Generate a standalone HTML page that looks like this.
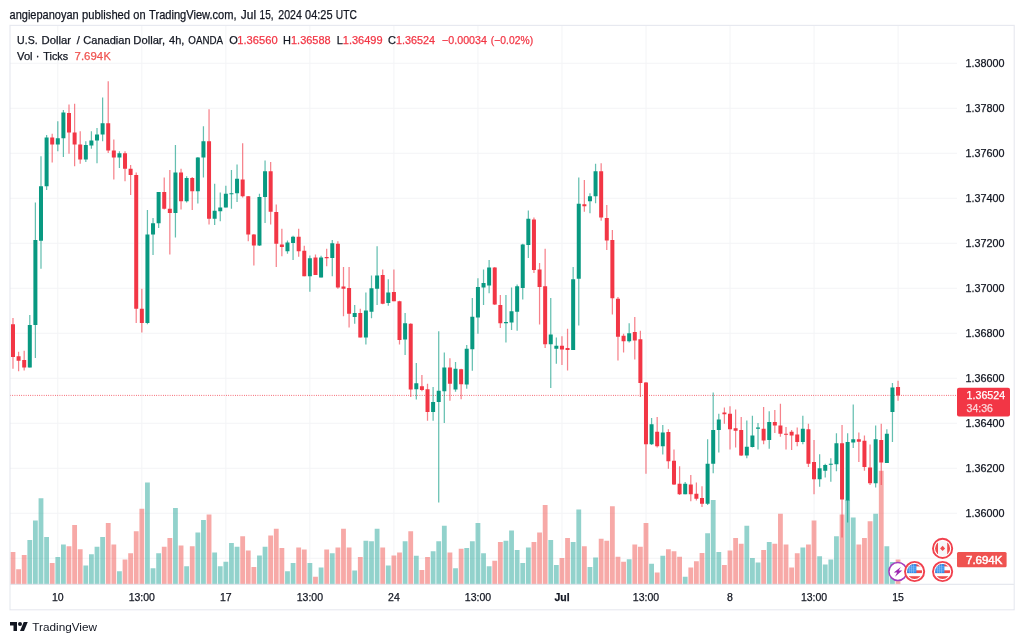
<!DOCTYPE html><html><head><meta charset="utf-8"><title>USDCAD chart</title>
<style>html,body{margin:0;padding:0;background:#fff}body{width:1024px;height:643px;overflow:hidden}svg{display:block}text{font-family:"Liberation Sans", sans-serif}</style></head><body>
<svg width="1024" height="643" viewBox="0 0 1024 643">
<rect width="1024" height="643" fill="#fff"/>
<g stroke="#f3f4f6" stroke-width="1"><line x1="57.8" y1="26" x2="57.8" y2="584" /><line x1="141.82999999999998" y1="26" x2="141.82999999999998" y2="584" /><line x1="225.86" y1="26" x2="225.86" y2="584" /><line x1="309.89" y1="26" x2="309.89" y2="584" /><line x1="393.92" y1="26" x2="393.92" y2="584" /><line x1="477.95" y1="26" x2="477.95" y2="584" /><line x1="561.98" y1="26" x2="561.98" y2="584" /><line x1="646.01" y1="26" x2="646.01" y2="584" /><line x1="730.04" y1="26" x2="730.04" y2="584" /><line x1="814.0699999999999" y1="26" x2="814.0699999999999" y2="584" /><line x1="898.0999999999999" y1="26" x2="898.0999999999999" y2="584" /><line x1="10" y1="63.25" x2="957" y2="63.25" /><line x1="10" y1="108.25" x2="957" y2="108.25" /><line x1="10" y1="153.25" x2="957" y2="153.25" /><line x1="10" y1="198.25" x2="957" y2="198.25" /><line x1="10" y1="243.25" x2="957" y2="243.25" /><line x1="10" y1="288.25" x2="957" y2="288.25" /><line x1="10" y1="333.25" x2="957" y2="333.25" /><line x1="10" y1="378.25" x2="957" y2="378.25" /><line x1="10" y1="423.25" x2="957" y2="423.25" /><line x1="10" y1="468.25" x2="957" y2="468.25" /><line x1="10" y1="513.25" x2="957" y2="513.25" /><line x1="10" y1="558.25" x2="957" y2="558.25" /></g>
<g fill-opacity="0.5"><rect x="10.59" y="552.00" width="4.80" height="32.25" fill="#ef5350"/><rect x="16.19" y="569.25" width="4.80" height="15.00" fill="#ef5350"/><rect x="21.79" y="555.00" width="4.80" height="29.25" fill="#ef5350"/><rect x="27.39" y="540.00" width="4.80" height="44.25" fill="#26a69a"/><rect x="32.99" y="520.50" width="4.80" height="63.75" fill="#26a69a"/><rect x="38.59" y="498.25" width="4.80" height="86.00" fill="#26a69a"/><rect x="44.20" y="537.00" width="4.80" height="47.25" fill="#26a69a"/><rect x="49.80" y="563.00" width="4.80" height="21.25" fill="#ef5350"/><rect x="55.40" y="557.00" width="4.80" height="27.25" fill="#26a69a"/><rect x="61.00" y="544.50" width="4.80" height="39.75" fill="#26a69a"/><rect x="66.60" y="546.25" width="4.80" height="38.00" fill="#ef5350"/><rect x="72.21" y="525.00" width="4.80" height="59.25" fill="#ef5350"/><rect x="77.81" y="549.25" width="4.80" height="35.00" fill="#ef5350"/><rect x="83.41" y="565.50" width="4.80" height="18.75" fill="#26a69a"/><rect x="89.01" y="554.25" width="4.80" height="30.00" fill="#26a69a"/><rect x="94.61" y="546.75" width="4.80" height="37.50" fill="#26a69a"/><rect x="100.21" y="537.00" width="4.80" height="47.25" fill="#26a69a"/><rect x="105.82" y="523.00" width="4.80" height="61.25" fill="#ef5350"/><rect x="111.42" y="544.50" width="4.80" height="39.75" fill="#ef5350"/><rect x="117.02" y="571.25" width="4.80" height="13.00" fill="#26a69a"/><rect x="122.62" y="559.50" width="4.80" height="24.75" fill="#ef5350"/><rect x="128.22" y="553.25" width="4.80" height="31.00" fill="#ef5350"/><rect x="133.82" y="531.25" width="4.80" height="53.00" fill="#ef5350"/><rect x="139.43" y="508.75" width="4.80" height="75.50" fill="#ef5350"/><rect x="145.03" y="482.50" width="4.80" height="101.75" fill="#26a69a"/><rect x="150.63" y="568.25" width="4.80" height="16.00" fill="#26a69a"/><rect x="156.23" y="553.25" width="4.80" height="31.00" fill="#26a69a"/><rect x="161.83" y="546.75" width="4.80" height="37.50" fill="#ef5350"/><rect x="167.43" y="538.00" width="4.80" height="46.25" fill="#ef5350"/><rect x="173.04" y="508.00" width="4.80" height="76.25" fill="#26a69a"/><rect x="178.64" y="545.50" width="4.80" height="38.75" fill="#ef5350"/><rect x="184.24" y="566.25" width="4.80" height="18.00" fill="#26a69a"/><rect x="189.84" y="546.25" width="4.80" height="38.00" fill="#ef5350"/><rect x="195.44" y="532.50" width="4.80" height="51.75" fill="#26a69a"/><rect x="201.04" y="520.00" width="4.80" height="64.25" fill="#26a69a"/><rect x="206.65" y="514.50" width="4.80" height="69.75" fill="#ef5350"/><rect x="212.25" y="552.50" width="4.80" height="31.75" fill="#26a69a"/><rect x="217.85" y="566.25" width="4.80" height="18.00" fill="#26a69a"/><rect x="223.45" y="561.75" width="4.80" height="22.50" fill="#26a69a"/><rect x="229.05" y="543.00" width="4.80" height="41.25" fill="#26a69a"/><rect x="234.65" y="546.75" width="4.80" height="37.50" fill="#26a69a"/><rect x="240.26" y="536.25" width="4.80" height="48.00" fill="#ef5350"/><rect x="245.86" y="550.50" width="4.80" height="33.75" fill="#ef5350"/><rect x="251.46" y="567.00" width="4.80" height="17.25" fill="#ef5350"/><rect x="257.06" y="555.50" width="4.80" height="28.75" fill="#26a69a"/><rect x="262.66" y="546.75" width="4.80" height="37.50" fill="#26a69a"/><rect x="268.26" y="535.50" width="4.80" height="48.75" fill="#ef5350"/><rect x="273.87" y="528.75" width="4.80" height="55.50" fill="#ef5350"/><rect x="279.47" y="548.00" width="4.80" height="36.25" fill="#ef5350"/><rect x="285.07" y="571.25" width="4.80" height="13.00" fill="#26a69a"/><rect x="290.67" y="563.00" width="4.80" height="21.25" fill="#26a69a"/><rect x="296.27" y="547.50" width="4.80" height="36.75" fill="#ef5350"/><rect x="301.87" y="549.50" width="4.80" height="34.75" fill="#ef5350"/><rect x="307.48" y="563.00" width="4.80" height="21.25" fill="#26a69a"/><rect x="313.08" y="576.75" width="4.80" height="7.50" fill="#ef5350"/><rect x="318.68" y="567.50" width="4.80" height="16.75" fill="#26a69a"/><rect x="324.28" y="549.50" width="4.80" height="34.75" fill="#ef5350"/><rect x="329.88" y="553.25" width="4.80" height="31.00" fill="#26a69a"/><rect x="335.49" y="547.50" width="4.80" height="36.75" fill="#ef5350"/><rect x="341.09" y="528.75" width="4.80" height="55.50" fill="#ef5350"/><rect x="346.69" y="547.50" width="4.80" height="36.75" fill="#ef5350"/><rect x="352.29" y="570.50" width="4.80" height="13.75" fill="#26a69a"/><rect x="357.89" y="557.00" width="4.80" height="27.25" fill="#ef5350"/><rect x="363.49" y="540.75" width="4.80" height="43.50" fill="#26a69a"/><rect x="369.10" y="541.25" width="4.80" height="43.00" fill="#26a69a"/><rect x="374.70" y="528.75" width="4.80" height="55.50" fill="#26a69a"/><rect x="380.30" y="547.50" width="4.80" height="36.75" fill="#ef5350"/><rect x="385.90" y="565.50" width="4.80" height="18.75" fill="#26a69a"/><rect x="391.50" y="555.50" width="4.80" height="28.75" fill="#ef5350"/><rect x="397.10" y="552.50" width="4.80" height="31.75" fill="#ef5350"/><rect x="402.71" y="541.25" width="4.80" height="43.00" fill="#26a69a"/><rect x="408.31" y="531.25" width="4.80" height="53.00" fill="#ef5350"/><rect x="413.91" y="555.75" width="4.80" height="28.50" fill="#26a69a"/><rect x="419.51" y="570.00" width="4.80" height="14.25" fill="#ef5350"/><rect x="425.11" y="557.00" width="4.80" height="27.25" fill="#ef5350"/><rect x="430.71" y="551.25" width="4.80" height="33.00" fill="#26a69a"/><rect x="436.32" y="541.25" width="4.80" height="43.00" fill="#26a69a"/><rect x="441.92" y="525.75" width="4.80" height="58.50" fill="#26a69a"/><rect x="447.52" y="552.50" width="4.80" height="31.75" fill="#ef5350"/><rect x="453.12" y="568.25" width="4.80" height="16.00" fill="#26a69a"/><rect x="458.72" y="548.75" width="4.80" height="35.50" fill="#ef5350"/><rect x="464.32" y="548.00" width="4.80" height="36.25" fill="#26a69a"/><rect x="469.93" y="541.25" width="4.80" height="43.00" fill="#26a69a"/><rect x="475.53" y="523.00" width="4.80" height="61.25" fill="#26a69a"/><rect x="481.13" y="553.25" width="4.80" height="31.00" fill="#26a69a"/><rect x="486.73" y="566.25" width="4.80" height="18.00" fill="#26a69a"/><rect x="492.33" y="560.75" width="4.80" height="23.50" fill="#ef5350"/><rect x="497.93" y="542.00" width="4.80" height="42.25" fill="#ef5350"/><rect x="503.54" y="540.75" width="4.80" height="43.50" fill="#26a69a"/><rect x="509.14" y="530.50" width="4.80" height="53.75" fill="#26a69a"/><rect x="514.74" y="550.00" width="4.80" height="34.25" fill="#26a69a"/><rect x="520.34" y="563.00" width="4.80" height="21.25" fill="#26a69a"/><rect x="525.94" y="547.50" width="4.80" height="36.75" fill="#26a69a"/><rect x="531.54" y="542.00" width="4.80" height="42.25" fill="#ef5350"/><rect x="537.15" y="532.50" width="4.80" height="51.75" fill="#ef5350"/><rect x="542.75" y="505.00" width="4.80" height="79.25" fill="#ef5350"/><rect x="548.35" y="540.00" width="4.80" height="44.25" fill="#26a69a"/><rect x="553.95" y="565.00" width="4.80" height="19.25" fill="#26a69a"/><rect x="559.55" y="558.00" width="4.80" height="26.25" fill="#ef5350"/><rect x="565.15" y="538.00" width="4.80" height="46.25" fill="#ef5350"/><rect x="570.76" y="542.00" width="4.80" height="42.25" fill="#26a69a"/><rect x="576.36" y="509.50" width="4.80" height="74.75" fill="#26a69a"/><rect x="581.96" y="546.25" width="4.80" height="38.00" fill="#ef5350"/><rect x="587.56" y="567.00" width="4.80" height="17.25" fill="#26a69a"/><rect x="593.16" y="557.50" width="4.80" height="26.75" fill="#26a69a"/><rect x="598.76" y="538.75" width="4.80" height="45.50" fill="#ef5350"/><rect x="604.37" y="540.75" width="4.80" height="43.50" fill="#ef5350"/><rect x="609.97" y="506.25" width="4.80" height="78.00" fill="#ef5350"/><rect x="615.57" y="556.75" width="4.80" height="27.50" fill="#ef5350"/><rect x="621.17" y="561.75" width="4.80" height="22.50" fill="#ef5350"/><rect x="626.77" y="559.25" width="4.80" height="25.00" fill="#26a69a"/><rect x="632.38" y="544.50" width="4.80" height="39.75" fill="#ef5350"/><rect x="637.98" y="546.75" width="4.80" height="37.50" fill="#ef5350"/><rect x="643.58" y="523.00" width="4.80" height="61.25" fill="#ef5350"/><rect x="649.18" y="563.75" width="4.80" height="20.50" fill="#26a69a"/><rect x="654.78" y="572.50" width="4.80" height="11.75" fill="#ef5350"/><rect x="660.38" y="555.75" width="4.80" height="28.50" fill="#26a69a"/><rect x="665.99" y="549.25" width="4.80" height="35.00" fill="#ef5350"/><rect x="671.59" y="551.25" width="4.80" height="33.00" fill="#ef5350"/><rect x="677.19" y="556.75" width="4.80" height="27.50" fill="#ef5350"/><rect x="682.79" y="576.75" width="4.80" height="7.50" fill="#26a69a"/><rect x="688.39" y="567.50" width="4.80" height="16.75" fill="#ef5350"/><rect x="693.99" y="561.25" width="4.80" height="23.00" fill="#ef5350"/><rect x="699.60" y="553.00" width="4.80" height="31.25" fill="#ef5350"/><rect x="705.20" y="533.25" width="4.80" height="51.00" fill="#26a69a"/><rect x="710.80" y="500.00" width="4.80" height="84.25" fill="#26a69a"/><rect x="716.40" y="552.00" width="4.80" height="32.25" fill="#26a69a"/><rect x="722.00" y="565.00" width="4.80" height="19.25" fill="#ef5350"/><rect x="727.60" y="550.50" width="4.80" height="33.75" fill="#ef5350"/><rect x="733.21" y="538.00" width="4.80" height="46.25" fill="#ef5350"/><rect x="738.81" y="543.75" width="4.80" height="40.50" fill="#ef5350"/><rect x="744.41" y="525.75" width="4.80" height="58.50" fill="#26a69a"/><rect x="750.01" y="558.00" width="4.80" height="26.25" fill="#26a69a"/><rect x="755.61" y="562.50" width="4.80" height="21.75" fill="#26a69a"/><rect x="761.21" y="550.00" width="4.80" height="34.25" fill="#ef5350"/><rect x="766.82" y="542.00" width="4.80" height="42.25" fill="#26a69a"/><rect x="772.42" y="543.75" width="4.80" height="40.50" fill="#ef5350"/><rect x="778.02" y="513.75" width="4.80" height="70.50" fill="#ef5350"/><rect x="783.62" y="544.50" width="4.80" height="39.75" fill="#ef5350"/><rect x="789.22" y="567.50" width="4.80" height="16.75" fill="#ef5350"/><rect x="794.82" y="553.25" width="4.80" height="31.00" fill="#ef5350"/><rect x="800.43" y="547.50" width="4.80" height="36.75" fill="#26a69a"/><rect x="806.03" y="544.50" width="4.80" height="39.75" fill="#ef5350"/><rect x="811.63" y="520.50" width="4.80" height="63.75" fill="#ef5350"/><rect x="817.23" y="556.25" width="4.80" height="28.00" fill="#26a69a"/><rect x="822.83" y="564.50" width="4.80" height="19.75" fill="#26a69a"/><rect x="828.43" y="559.50" width="4.80" height="24.75" fill="#26a69a"/><rect x="834.04" y="536.25" width="4.80" height="48.00" fill="#26a69a"/><rect x="839.64" y="514.50" width="4.80" height="69.75" fill="#ef5350"/><rect x="845.24" y="500.00" width="4.80" height="84.25" fill="#26a69a"/><rect x="850.84" y="517.50" width="4.80" height="66.75" fill="#26a69a"/><rect x="856.44" y="544.50" width="4.80" height="39.75" fill="#ef5350"/><rect x="862.04" y="538.00" width="4.80" height="46.25" fill="#ef5350"/><rect x="867.65" y="521.25" width="4.80" height="63.00" fill="#ef5350"/><rect x="873.25" y="513.75" width="4.80" height="70.50" fill="#26a69a"/><rect x="878.85" y="470.75" width="4.80" height="113.50" fill="#ef5350"/><rect x="884.45" y="546.25" width="4.80" height="38.00" fill="#26a69a"/><rect x="890.05" y="562.00" width="4.80" height="22.25" fill="#26a69a"/><rect x="895.65" y="559.50" width="4.80" height="24.75" fill="#ef5350"/></g>
<line x1="10" y1="395.4" x2="957" y2="395.4" stroke="#f23645" stroke-width="1" stroke-dasharray="0.8 1.45" opacity="0.9"/>
<g stroke-width="1.25" opacity="0.62"><line x1="12.99" y1="318.00" x2="12.99" y2="368.75" stroke="#f23645"/><line x1="18.59" y1="351.75" x2="18.59" y2="371.25" stroke="#f23645"/><line x1="24.19" y1="350.75" x2="24.19" y2="370.50" stroke="#f23645"/><line x1="29.79" y1="315.00" x2="29.79" y2="367.50" stroke="#089981"/><line x1="35.39" y1="202.50" x2="35.39" y2="358.00" stroke="#089981"/><line x1="40.99" y1="156.25" x2="40.99" y2="268.75" stroke="#089981"/><line x1="46.60" y1="135.00" x2="46.60" y2="190.00" stroke="#089981"/><line x1="52.20" y1="133.75" x2="52.20" y2="162.50" stroke="#f23645"/><line x1="57.80" y1="121.25" x2="57.80" y2="151.25" stroke="#089981"/><line x1="63.40" y1="110.00" x2="63.40" y2="157.00" stroke="#089981"/><line x1="69.00" y1="104.50" x2="69.00" y2="153.75" stroke="#f23645"/><line x1="74.61" y1="103.75" x2="74.61" y2="166.25" stroke="#f23645"/><line x1="80.21" y1="131.25" x2="80.21" y2="163.75" stroke="#f23645"/><line x1="85.81" y1="141.25" x2="85.81" y2="162.00" stroke="#089981"/><line x1="91.41" y1="131.25" x2="91.41" y2="148.75" stroke="#089981"/><line x1="97.01" y1="128.00" x2="97.01" y2="163.25" stroke="#089981"/><line x1="102.61" y1="97.50" x2="102.61" y2="141.25" stroke="#089981"/><line x1="108.22" y1="81.25" x2="108.22" y2="153.00" stroke="#f23645"/><line x1="113.82" y1="139.50" x2="113.82" y2="179.50" stroke="#f23645"/><line x1="119.42" y1="151.25" x2="119.42" y2="168.00" stroke="#089981"/><line x1="125.02" y1="151.25" x2="125.02" y2="181.25" stroke="#f23645"/><line x1="130.62" y1="165.00" x2="130.62" y2="195.00" stroke="#f23645"/><line x1="136.22" y1="172.50" x2="136.22" y2="323.00" stroke="#f23645"/><line x1="141.83" y1="288.75" x2="141.83" y2="332.50" stroke="#f23645"/><line x1="147.43" y1="210.00" x2="147.43" y2="324.25" stroke="#089981"/><line x1="153.03" y1="218.00" x2="153.03" y2="255.00" stroke="#089981"/><line x1="158.63" y1="192.00" x2="158.63" y2="228.00" stroke="#089981"/><line x1="164.23" y1="177.50" x2="164.23" y2="209.50" stroke="#f23645"/><line x1="169.83" y1="170.00" x2="169.83" y2="254.50" stroke="#f23645"/><line x1="175.44" y1="145.00" x2="175.44" y2="237.50" stroke="#089981"/><line x1="181.04" y1="168.75" x2="181.04" y2="209.50" stroke="#f23645"/><line x1="186.64" y1="176.25" x2="186.64" y2="202.50" stroke="#089981"/><line x1="192.24" y1="177.00" x2="192.24" y2="210.00" stroke="#f23645"/><line x1="197.84" y1="157.00" x2="197.84" y2="203.50" stroke="#089981"/><line x1="203.44" y1="126.25" x2="203.44" y2="177.50" stroke="#089981"/><line x1="209.05" y1="109.25" x2="209.05" y2="224.50" stroke="#f23645"/><line x1="214.65" y1="183.75" x2="214.65" y2="225.00" stroke="#089981"/><line x1="220.25" y1="192.50" x2="220.25" y2="221.25" stroke="#089981"/><line x1="225.85" y1="185.75" x2="225.85" y2="207.50" stroke="#089981"/><line x1="231.45" y1="170.00" x2="231.45" y2="208.75" stroke="#089981"/><line x1="237.05" y1="164.50" x2="237.05" y2="202.00" stroke="#089981"/><line x1="242.66" y1="143.25" x2="242.66" y2="197.50" stroke="#f23645"/><line x1="248.26" y1="196.00" x2="248.26" y2="241.25" stroke="#f23645"/><line x1="253.86" y1="234.00" x2="253.86" y2="265.50" stroke="#f23645"/><line x1="259.46" y1="193.75" x2="259.46" y2="246.00" stroke="#089981"/><line x1="265.06" y1="160.50" x2="265.06" y2="223.00" stroke="#089981"/><line x1="270.66" y1="162.00" x2="270.66" y2="224.50" stroke="#f23645"/><line x1="276.27" y1="204.50" x2="276.27" y2="267.00" stroke="#f23645"/><line x1="281.87" y1="228.75" x2="281.87" y2="256.25" stroke="#f23645"/><line x1="287.47" y1="240.50" x2="287.47" y2="253.75" stroke="#089981"/><line x1="293.07" y1="235.75" x2="293.07" y2="260.00" stroke="#089981"/><line x1="298.67" y1="228.75" x2="298.67" y2="256.75" stroke="#f23645"/><line x1="304.27" y1="245.75" x2="304.27" y2="276.25" stroke="#f23645"/><line x1="309.88" y1="255.50" x2="309.88" y2="291.75" stroke="#089981"/><line x1="315.48" y1="254.50" x2="315.48" y2="275.00" stroke="#f23645"/><line x1="321.08" y1="255.75" x2="321.08" y2="277.50" stroke="#089981"/><line x1="326.68" y1="248.75" x2="326.68" y2="266.25" stroke="#f23645"/><line x1="332.28" y1="240.00" x2="332.28" y2="276.25" stroke="#089981"/><line x1="337.88" y1="241.25" x2="337.88" y2="288.75" stroke="#f23645"/><line x1="343.49" y1="267.00" x2="343.49" y2="316.25" stroke="#f23645"/><line x1="349.09" y1="267.00" x2="349.09" y2="327.50" stroke="#f23645"/><line x1="354.69" y1="305.00" x2="354.69" y2="323.75" stroke="#089981"/><line x1="360.29" y1="308.75" x2="360.29" y2="337.50" stroke="#f23645"/><line x1="365.89" y1="292.50" x2="365.89" y2="344.50" stroke="#089981"/><line x1="371.50" y1="275.50" x2="371.50" y2="318.25" stroke="#089981"/><line x1="377.10" y1="246.25" x2="377.10" y2="305.00" stroke="#089981"/><line x1="382.70" y1="269.50" x2="382.70" y2="304.25" stroke="#f23645"/><line x1="388.30" y1="279.25" x2="388.30" y2="305.75" stroke="#089981"/><line x1="393.90" y1="269.50" x2="393.90" y2="301.25" stroke="#f23645"/><line x1="399.50" y1="300.75" x2="399.50" y2="344.50" stroke="#f23645"/><line x1="405.11" y1="313.00" x2="405.11" y2="355.00" stroke="#089981"/><line x1="410.71" y1="323.25" x2="410.71" y2="397.00" stroke="#f23645"/><line x1="416.31" y1="363.00" x2="416.31" y2="399.50" stroke="#089981"/><line x1="421.91" y1="375.00" x2="421.91" y2="391.25" stroke="#f23645"/><line x1="427.51" y1="383.75" x2="427.51" y2="420.75" stroke="#f23645"/><line x1="433.11" y1="387.00" x2="433.11" y2="420.75" stroke="#089981"/><line x1="438.72" y1="331.25" x2="438.72" y2="502.50" stroke="#089981"/><line x1="444.32" y1="352.50" x2="444.32" y2="423.00" stroke="#089981"/><line x1="449.92" y1="358.25" x2="449.92" y2="400.75" stroke="#f23645"/><line x1="455.52" y1="362.00" x2="455.52" y2="391.75" stroke="#089981"/><line x1="461.12" y1="368.75" x2="461.12" y2="399.25" stroke="#f23645"/><line x1="466.72" y1="345.00" x2="466.72" y2="388.75" stroke="#089981"/><line x1="472.33" y1="298.00" x2="472.33" y2="370.75" stroke="#089981"/><line x1="477.93" y1="278.25" x2="477.93" y2="333.75" stroke="#089981"/><line x1="483.53" y1="269.50" x2="483.53" y2="305.00" stroke="#089981"/><line x1="489.13" y1="260.00" x2="489.13" y2="293.25" stroke="#089981"/><line x1="494.73" y1="267.00" x2="494.73" y2="305.00" stroke="#f23645"/><line x1="500.33" y1="295.00" x2="500.33" y2="328.00" stroke="#f23645"/><line x1="505.94" y1="295.00" x2="505.94" y2="342.50" stroke="#089981"/><line x1="511.54" y1="287.50" x2="511.54" y2="330.00" stroke="#089981"/><line x1="517.14" y1="284.50" x2="517.14" y2="330.75" stroke="#089981"/><line x1="522.74" y1="243.75" x2="522.74" y2="299.50" stroke="#089981"/><line x1="528.34" y1="210.50" x2="528.34" y2="258.00" stroke="#089981"/><line x1="533.94" y1="217.50" x2="533.94" y2="273.00" stroke="#f23645"/><line x1="539.55" y1="263.00" x2="539.55" y2="324.50" stroke="#f23645"/><line x1="545.15" y1="248.75" x2="545.15" y2="348.00" stroke="#f23645"/><line x1="550.75" y1="298.00" x2="550.75" y2="388.00" stroke="#089981"/><line x1="556.35" y1="337.50" x2="556.35" y2="363.75" stroke="#089981"/><line x1="561.95" y1="336.25" x2="561.95" y2="365.00" stroke="#f23645"/><line x1="567.55" y1="328.75" x2="567.55" y2="370.50" stroke="#f23645"/><line x1="573.16" y1="267.00" x2="573.16" y2="350.00" stroke="#089981"/><line x1="578.76" y1="177.50" x2="578.76" y2="325.50" stroke="#089981"/><line x1="584.36" y1="180.00" x2="584.36" y2="211.75" stroke="#f23645"/><line x1="589.96" y1="193.25" x2="589.96" y2="213.25" stroke="#089981"/><line x1="595.56" y1="163.75" x2="595.56" y2="203.25" stroke="#089981"/><line x1="601.16" y1="163.25" x2="601.16" y2="220.75" stroke="#f23645"/><line x1="606.77" y1="205.00" x2="606.77" y2="250.00" stroke="#f23645"/><line x1="612.37" y1="230.00" x2="612.37" y2="314.50" stroke="#f23645"/><line x1="617.97" y1="297.00" x2="617.97" y2="360.50" stroke="#f23645"/><line x1="623.57" y1="333.75" x2="623.57" y2="352.50" stroke="#f23645"/><line x1="629.17" y1="323.25" x2="629.17" y2="342.50" stroke="#089981"/><line x1="634.78" y1="317.00" x2="634.78" y2="359.50" stroke="#f23645"/><line x1="640.38" y1="330.75" x2="640.38" y2="397.00" stroke="#f23645"/><line x1="645.98" y1="382.00" x2="645.98" y2="473.75" stroke="#f23645"/><line x1="651.58" y1="418.00" x2="651.58" y2="445.00" stroke="#089981"/><line x1="657.18" y1="417.00" x2="657.18" y2="447.50" stroke="#f23645"/><line x1="662.78" y1="425.00" x2="662.78" y2="454.50" stroke="#089981"/><line x1="668.39" y1="429.25" x2="668.39" y2="468.75" stroke="#f23645"/><line x1="673.99" y1="449.50" x2="673.99" y2="485.00" stroke="#f23645"/><line x1="679.59" y1="466.25" x2="679.59" y2="495.00" stroke="#f23645"/><line x1="685.19" y1="482.00" x2="685.19" y2="494.25" stroke="#089981"/><line x1="690.79" y1="475.00" x2="690.79" y2="501.25" stroke="#f23645"/><line x1="696.39" y1="482.50" x2="696.39" y2="500.50" stroke="#f23645"/><line x1="702.00" y1="486.25" x2="702.00" y2="507.00" stroke="#f23645"/><line x1="707.60" y1="439.25" x2="707.60" y2="505.00" stroke="#089981"/><line x1="713.20" y1="392.50" x2="713.20" y2="473.25" stroke="#089981"/><line x1="718.80" y1="413.75" x2="718.80" y2="452.50" stroke="#089981"/><line x1="724.40" y1="407.50" x2="724.40" y2="423.75" stroke="#f23645"/><line x1="730.00" y1="406.25" x2="730.00" y2="449.50" stroke="#f23645"/><line x1="735.61" y1="409.50" x2="735.61" y2="447.50" stroke="#f23645"/><line x1="741.21" y1="417.00" x2="741.21" y2="456.00" stroke="#f23645"/><line x1="746.81" y1="420.50" x2="746.81" y2="458.25" stroke="#089981"/><line x1="752.41" y1="415.75" x2="752.41" y2="447.50" stroke="#089981"/><line x1="758.01" y1="423.00" x2="758.01" y2="449.50" stroke="#089981"/><line x1="763.61" y1="407.00" x2="763.61" y2="444.25" stroke="#f23645"/><line x1="769.22" y1="411.25" x2="769.22" y2="448.75" stroke="#089981"/><line x1="774.82" y1="410.00" x2="774.82" y2="433.00" stroke="#f23645"/><line x1="780.42" y1="403.75" x2="780.42" y2="436.75" stroke="#f23645"/><line x1="786.02" y1="427.00" x2="786.02" y2="449.50" stroke="#f23645"/><line x1="791.62" y1="430.00" x2="791.62" y2="450.00" stroke="#f23645"/><line x1="797.22" y1="427.50" x2="797.22" y2="446.25" stroke="#f23645"/><line x1="802.83" y1="415.75" x2="802.83" y2="444.25" stroke="#089981"/><line x1="808.43" y1="423.75" x2="808.43" y2="467.00" stroke="#f23645"/><line x1="814.03" y1="440.00" x2="814.03" y2="494.25" stroke="#f23645"/><line x1="819.63" y1="454.25" x2="819.63" y2="486.75" stroke="#089981"/><line x1="825.23" y1="463.75" x2="825.23" y2="477.50" stroke="#089981"/><line x1="830.83" y1="458.25" x2="830.83" y2="481.75" stroke="#089981"/><line x1="836.44" y1="433.25" x2="836.44" y2="471.25" stroke="#089981"/><line x1="842.04" y1="425.00" x2="842.04" y2="537.50" stroke="#f23645"/><line x1="847.64" y1="433.25" x2="847.64" y2="522.50" stroke="#089981"/><line x1="853.24" y1="404.50" x2="853.24" y2="448.00" stroke="#089981"/><line x1="858.84" y1="432.50" x2="858.84" y2="462.00" stroke="#f23645"/><line x1="864.44" y1="435.50" x2="864.44" y2="470.75" stroke="#f23645"/><line x1="870.05" y1="444.50" x2="870.05" y2="485.00" stroke="#f23645"/><line x1="875.65" y1="425.50" x2="875.65" y2="487.50" stroke="#089981"/><line x1="881.25" y1="423.75" x2="881.25" y2="485.00" stroke="#f23645"/><line x1="886.85" y1="429.25" x2="886.85" y2="463.00" stroke="#089981"/><line x1="892.45" y1="383.00" x2="892.45" y2="442.00" stroke="#089981"/><line x1="898.05" y1="380.75" x2="898.05" y2="400.75" stroke="#f23645"/></g>
<g><rect x="10.99" y="324.25" width="4.0" height="32.75" fill="#f23645"/><rect x="16.59" y="356.25" width="4.0" height="4.50" fill="#f23645"/><rect x="22.19" y="360.00" width="4.0" height="7.50" fill="#f23645"/><rect x="27.79" y="325.00" width="4.0" height="42.50" fill="#089981"/><rect x="33.39" y="240.00" width="4.0" height="85.00" fill="#089981"/><rect x="38.99" y="186.25" width="4.0" height="54.50" fill="#089981"/><rect x="44.60" y="137.50" width="4.0" height="48.75" fill="#089981"/><rect x="50.20" y="137.50" width="4.0" height="7.00" fill="#f23645"/><rect x="55.80" y="138.25" width="4.0" height="6.25" fill="#089981"/><rect x="61.40" y="112.50" width="4.0" height="25.75" fill="#089981"/><rect x="67.00" y="113.00" width="4.0" height="19.50" fill="#f23645"/><rect x="72.61" y="132.50" width="4.0" height="12.00" fill="#f23645"/><rect x="78.21" y="144.50" width="4.0" height="15.00" fill="#f23645"/><rect x="83.81" y="145.00" width="4.0" height="14.50" fill="#089981"/><rect x="89.41" y="140.50" width="4.0" height="5.00" fill="#089981"/><rect x="95.01" y="134.50" width="4.0" height="6.00" fill="#089981"/><rect x="100.61" y="123.25" width="4.0" height="11.25" fill="#089981"/><rect x="106.22" y="123.25" width="4.0" height="27.25" fill="#f23645"/><rect x="111.82" y="150.50" width="4.0" height="7.00" fill="#f23645"/><rect x="117.42" y="153.25" width="4.0" height="4.25" fill="#089981"/><rect x="123.02" y="153.25" width="4.0" height="15.50" fill="#f23645"/><rect x="128.62" y="168.75" width="4.0" height="6.25" fill="#f23645"/><rect x="134.22" y="175.00" width="4.0" height="133.75" fill="#f23645"/><rect x="139.83" y="308.75" width="4.0" height="14.25" fill="#f23645"/><rect x="145.43" y="234.50" width="4.0" height="88.50" fill="#089981"/><rect x="151.03" y="223.25" width="4.0" height="11.25" fill="#089981"/><rect x="156.63" y="192.00" width="4.0" height="31.25" fill="#089981"/><rect x="162.23" y="192.00" width="4.0" height="16.75" fill="#f23645"/><rect x="167.83" y="208.75" width="4.0" height="4.25" fill="#f23645"/><rect x="173.44" y="172.50" width="4.0" height="40.50" fill="#089981"/><rect x="179.04" y="172.50" width="4.0" height="28.75" fill="#f23645"/><rect x="184.64" y="178.00" width="4.0" height="23.25" fill="#089981"/><rect x="190.24" y="178.00" width="4.0" height="13.25" fill="#f23645"/><rect x="195.84" y="157.50" width="4.0" height="33.75" fill="#089981"/><rect x="201.44" y="141.25" width="4.0" height="16.25" fill="#089981"/><rect x="207.05" y="141.25" width="4.0" height="77.50" fill="#f23645"/><rect x="212.65" y="210.75" width="4.0" height="8.00" fill="#089981"/><rect x="218.25" y="207.50" width="4.0" height="3.75" fill="#089981"/><rect x="223.85" y="193.75" width="4.0" height="13.75" fill="#089981"/><rect x="229.45" y="193.25" width="4.0" height="1.00" fill="#089981"/><rect x="235.05" y="178.75" width="4.0" height="14.50" fill="#089981"/><rect x="240.66" y="179.50" width="4.0" height="16.75" fill="#f23645"/><rect x="246.26" y="196.25" width="4.0" height="38.25" fill="#f23645"/><rect x="251.86" y="234.50" width="4.0" height="11.00" fill="#f23645"/><rect x="257.46" y="197.00" width="4.0" height="48.50" fill="#089981"/><rect x="263.06" y="171.25" width="4.0" height="25.75" fill="#089981"/><rect x="268.66" y="171.25" width="4.0" height="40.50" fill="#f23645"/><rect x="274.27" y="212.00" width="4.0" height="31.75" fill="#f23645"/><rect x="279.87" y="244.50" width="4.0" height="2.50" fill="#f23645"/><rect x="285.47" y="242.50" width="4.0" height="8.75" fill="#089981"/><rect x="291.07" y="236.75" width="4.0" height="6.25" fill="#089981"/><rect x="296.67" y="236.75" width="4.0" height="14.50" fill="#f23645"/><rect x="302.27" y="250.75" width="4.0" height="25.50" fill="#f23645"/><rect x="307.88" y="258.25" width="4.0" height="18.00" fill="#089981"/><rect x="313.48" y="257.50" width="4.0" height="17.50" fill="#f23645"/><rect x="319.08" y="257.50" width="4.0" height="20.00" fill="#089981"/><rect x="324.68" y="257.00" width="4.0" height="1.25" fill="#f23645"/><rect x="330.28" y="243.25" width="4.0" height="14.75" fill="#089981"/><rect x="335.88" y="243.75" width="4.0" height="43.75" fill="#f23645"/><rect x="341.49" y="286.50" width="4.0" height="2.25" fill="#f23645"/><rect x="347.09" y="288.00" width="4.0" height="25.75" fill="#f23645"/><rect x="352.69" y="313.00" width="4.0" height="4.00" fill="#089981"/><rect x="358.29" y="313.00" width="4.0" height="24.50" fill="#f23645"/><rect x="363.89" y="310.50" width="4.0" height="27.00" fill="#089981"/><rect x="369.50" y="288.25" width="4.0" height="23.50" fill="#089981"/><rect x="375.10" y="275.50" width="4.0" height="13.25" fill="#089981"/><rect x="380.70" y="275.00" width="4.0" height="28.75" fill="#f23645"/><rect x="386.30" y="292.50" width="4.0" height="10.50" fill="#089981"/><rect x="391.90" y="292.00" width="4.0" height="9.25" fill="#f23645"/><rect x="397.50" y="301.25" width="4.0" height="38.75" fill="#f23645"/><rect x="403.11" y="323.25" width="4.0" height="16.25" fill="#089981"/><rect x="408.71" y="323.75" width="4.0" height="65.75" fill="#f23645"/><rect x="414.31" y="383.25" width="4.0" height="6.00" fill="#089981"/><rect x="419.91" y="386.25" width="4.0" height="3.75" fill="#f23645"/><rect x="425.51" y="389.25" width="4.0" height="22.75" fill="#f23645"/><rect x="431.11" y="402.00" width="4.0" height="10.00" fill="#089981"/><rect x="436.72" y="390.75" width="4.0" height="11.25" fill="#089981"/><rect x="442.32" y="367.50" width="4.0" height="23.75" fill="#089981"/><rect x="447.92" y="367.50" width="4.0" height="16.25" fill="#f23645"/><rect x="453.52" y="368.75" width="4.0" height="20.75" fill="#089981"/><rect x="459.12" y="369.25" width="4.0" height="15.00" fill="#f23645"/><rect x="464.72" y="348.75" width="4.0" height="35.75" fill="#089981"/><rect x="470.33" y="316.75" width="4.0" height="32.50" fill="#089981"/><rect x="475.93" y="287.00" width="4.0" height="30.50" fill="#089981"/><rect x="481.53" y="283.00" width="4.0" height="4.50" fill="#089981"/><rect x="487.13" y="267.50" width="4.0" height="18.00" fill="#089981"/><rect x="492.73" y="267.50" width="4.0" height="37.00" fill="#f23645"/><rect x="498.33" y="305.00" width="4.0" height="18.25" fill="#f23645"/><rect x="503.94" y="322.00" width="4.0" height="1.25" fill="#089981"/><rect x="509.54" y="311.25" width="4.0" height="11.25" fill="#089981"/><rect x="515.14" y="286.25" width="4.0" height="25.50" fill="#089981"/><rect x="520.74" y="244.50" width="4.0" height="43.50" fill="#089981"/><rect x="526.34" y="218.75" width="4.0" height="26.25" fill="#089981"/><rect x="531.94" y="219.50" width="4.0" height="50.50" fill="#f23645"/><rect x="537.55" y="269.50" width="4.0" height="17.50" fill="#f23645"/><rect x="543.15" y="286.25" width="4.0" height="58.00" fill="#f23645"/><rect x="548.75" y="334.50" width="4.0" height="9.75" fill="#089981"/><rect x="554.35" y="345.75" width="4.0" height="3.00" fill="#089981"/><rect x="559.95" y="345.75" width="4.0" height="3.75" fill="#f23645"/><rect x="565.55" y="348.00" width="4.0" height="2.00" fill="#f23645"/><rect x="571.16" y="279.25" width="4.0" height="70.75" fill="#089981"/><rect x="576.76" y="203.75" width="4.0" height="75.00" fill="#089981"/><rect x="582.36" y="204.25" width="4.0" height="2.00" fill="#f23645"/><rect x="587.96" y="196.25" width="4.0" height="5.00" fill="#089981"/><rect x="593.56" y="171.25" width="4.0" height="25.00" fill="#089981"/><rect x="599.16" y="171.25" width="4.0" height="46.25" fill="#f23645"/><rect x="604.77" y="218.00" width="4.0" height="22.50" fill="#f23645"/><rect x="610.37" y="240.00" width="4.0" height="58.25" fill="#f23645"/><rect x="615.97" y="298.75" width="4.0" height="38.00" fill="#f23645"/><rect x="621.57" y="335.75" width="4.0" height="5.50" fill="#f23645"/><rect x="627.17" y="333.25" width="4.0" height="8.00" fill="#089981"/><rect x="632.78" y="332.00" width="4.0" height="8.50" fill="#f23645"/><rect x="638.38" y="339.25" width="4.0" height="43.75" fill="#f23645"/><rect x="643.98" y="382.50" width="4.0" height="61.75" fill="#f23645"/><rect x="649.58" y="424.25" width="4.0" height="20.00" fill="#089981"/><rect x="655.18" y="431.75" width="4.0" height="14.50" fill="#f23645"/><rect x="660.78" y="432.50" width="4.0" height="13.75" fill="#089981"/><rect x="666.39" y="432.00" width="4.0" height="29.25" fill="#f23645"/><rect x="671.99" y="460.75" width="4.0" height="23.75" fill="#f23645"/><rect x="677.59" y="483.75" width="4.0" height="10.50" fill="#f23645"/><rect x="683.19" y="483.75" width="4.0" height="10.50" fill="#089981"/><rect x="688.79" y="484.50" width="4.0" height="9.75" fill="#f23645"/><rect x="694.39" y="493.75" width="4.0" height="5.00" fill="#f23645"/><rect x="700.00" y="498.00" width="4.0" height="5.75" fill="#f23645"/><rect x="705.60" y="463.75" width="4.0" height="40.00" fill="#089981"/><rect x="711.20" y="430.00" width="4.0" height="33.75" fill="#089981"/><rect x="716.80" y="419.50" width="4.0" height="10.50" fill="#089981"/><rect x="722.40" y="412.50" width="4.0" height="1.75" fill="#f23645"/><rect x="728.00" y="413.75" width="4.0" height="15.50" fill="#f23645"/><rect x="733.61" y="428.25" width="4.0" height="2.50" fill="#f23645"/><rect x="739.21" y="430.00" width="4.0" height="25.50" fill="#f23645"/><rect x="744.81" y="446.75" width="4.0" height="8.75" fill="#089981"/><rect x="750.41" y="435.50" width="4.0" height="11.50" fill="#089981"/><rect x="756.01" y="427.50" width="4.0" height="1.25" fill="#089981"/><rect x="761.61" y="428.75" width="4.0" height="11.75" fill="#f23645"/><rect x="767.22" y="422.00" width="4.0" height="18.00" fill="#089981"/><rect x="772.82" y="422.00" width="4.0" height="3.50" fill="#f23645"/><rect x="778.42" y="425.50" width="4.0" height="8.25" fill="#f23645"/><rect x="784.02" y="433.75" width="4.0" height="1.00" fill="#f23645"/><rect x="789.62" y="431.75" width="4.0" height="3.75" fill="#f23645"/><rect x="795.22" y="434.50" width="4.0" height="7.50" fill="#f23645"/><rect x="800.83" y="428.75" width="4.0" height="13.25" fill="#089981"/><rect x="806.43" y="429.25" width="4.0" height="34.50" fill="#f23645"/><rect x="812.03" y="462.00" width="4.0" height="17.25" fill="#f23645"/><rect x="817.63" y="468.25" width="4.0" height="11.00" fill="#089981"/><rect x="823.23" y="465.00" width="4.0" height="5.75" fill="#089981"/><rect x="828.83" y="463.75" width="4.0" height="1.00" fill="#089981"/><rect x="834.44" y="443.25" width="4.0" height="21.00" fill="#089981"/><rect x="840.04" y="443.25" width="4.0" height="56.25" fill="#f23645"/><rect x="845.64" y="442.00" width="4.0" height="58.50" fill="#089981"/><rect x="851.24" y="439.25" width="4.0" height="3.25" fill="#089981"/><rect x="856.84" y="439.25" width="4.0" height="2.50" fill="#f23645"/><rect x="862.44" y="440.75" width="4.0" height="26.25" fill="#f23645"/><rect x="868.05" y="467.50" width="4.0" height="15.75" fill="#f23645"/><rect x="873.65" y="439.25" width="4.0" height="44.00" fill="#089981"/><rect x="879.25" y="440.00" width="4.0" height="22.50" fill="#f23645"/><rect x="884.85" y="433.75" width="4.0" height="29.25" fill="#089981"/><rect x="890.45" y="387.50" width="4.0" height="24.50" fill="#089981"/><rect x="896.05" y="387.00" width="4.0" height="8.50" fill="#f23645"/></g>
<g stroke="#dfe2ea" stroke-width="1.1" fill="none" opacity="0.78"><rect x="10" y="25.4" width="1004.2" height="584.4"/><line x1="10" y1="584.4" x2="1014" y2="584.4"/></g>
<text x="9.6" y="18.8" font-size="11.9" fill="#131722" stroke="#131722" stroke-width="0.25" textLength="69.0" lengthAdjust="spacingAndGlyphs">angiepanoyan</text>
<text x="82.1" y="18.8" font-size="11.9" fill="#131722" stroke="#131722" stroke-width="0.25" textLength="48.0" lengthAdjust="spacingAndGlyphs">published</text>
<text x="133.35" y="18.8" font-size="11.9" fill="#131722" stroke="#131722" stroke-width="0.25" textLength="12.25" lengthAdjust="spacingAndGlyphs">on</text>
<text x="149.1" y="18.8" font-size="11.9" fill="#131722" stroke="#131722" stroke-width="0.25" textLength="87.5" lengthAdjust="spacingAndGlyphs">TradingView.com,</text>
<text x="240.85" y="18.8" font-size="11.9" fill="#131722" stroke="#131722" stroke-width="0.25" textLength="15.25" lengthAdjust="spacingAndGlyphs">Jul</text>
<text x="259.6" y="18.8" font-size="11.9" fill="#131722" stroke="#131722" stroke-width="0.25" textLength="14.0" lengthAdjust="spacingAndGlyphs">15,</text>
<text x="278.35" y="18.8" font-size="11.9" fill="#131722" stroke="#131722" stroke-width="0.25" textLength="23.5" lengthAdjust="spacingAndGlyphs">2024</text>
<text x="305.1" y="18.8" font-size="11.9" fill="#131722" stroke="#131722" stroke-width="0.25" textLength="27.5" lengthAdjust="spacingAndGlyphs">04:25</text>
<text x="335.85" y="18.8" font-size="11.9" fill="#131722" stroke="#131722" stroke-width="0.25" textLength="21.0" lengthAdjust="spacingAndGlyphs">UTC</text>
<text x="17.1" y="43.8" font-size="11.0" fill="#131722" stroke="#131722" stroke-width="0.25" textLength="20.5" lengthAdjust="spacingAndGlyphs">U.S.</text>
<text x="41.6" y="43.8" font-size="11.0" fill="#131722" stroke="#131722" stroke-width="0.25" textLength="29.5" lengthAdjust="spacingAndGlyphs">Dollar</text>
<text x="78.38" y="43.8" font-size="11.0" fill="#131722" stroke="#131722" stroke-width="0.25" text-anchor="middle">/</text>
<text x="83.35" y="43.8" font-size="11.0" fill="#131722" stroke="#131722" stroke-width="0.25" textLength="47.25" lengthAdjust="spacingAndGlyphs">Canadian</text>
<text x="133.35" y="43.8" font-size="11.0" fill="#131722" stroke="#131722" stroke-width="0.25" textLength="31.75" lengthAdjust="spacingAndGlyphs">Dollar,</text>
<text x="169.1" y="43.8" font-size="11.0" fill="#131722" stroke="#131722" stroke-width="0.25" textLength="15.25" lengthAdjust="spacingAndGlyphs">4h,</text>
<text x="188.35" y="43.8" font-size="11.0" fill="#131722" stroke="#131722" stroke-width="0.25" textLength="34.75" lengthAdjust="spacingAndGlyphs">OANDA</text>
<text x="233.5" y="43.8" font-size="11.0" fill="#131722" stroke="#131722" stroke-width="0.25" text-anchor="middle">O</text>
<text x="286.88" y="43.8" font-size="11.0" fill="#131722" stroke="#131722" stroke-width="0.25" text-anchor="middle">H</text>
<text x="339.75" y="43.8" font-size="11.0" fill="#131722" stroke="#131722" stroke-width="0.25" text-anchor="middle">L</text>
<text x="391.88" y="43.8" font-size="11.0" fill="#131722" stroke="#131722" stroke-width="0.25" text-anchor="middle">C</text>
<text x="237.3" y="43.8" font-size="11.0" fill="#f23645" stroke="#f23645" stroke-width="0.25" textLength="40.3" lengthAdjust="spacingAndGlyphs">1.36560</text>
<text x="291.0" y="43.8" font-size="11.0" fill="#f23645" stroke="#f23645" stroke-width="0.25" textLength="39.6" lengthAdjust="spacingAndGlyphs">1.36588</text>
<text x="342.8" y="43.8" font-size="11.0" fill="#f23645" stroke="#f23645" stroke-width="0.25" textLength="39.8" lengthAdjust="spacingAndGlyphs">1.36499</text>
<text x="396.0" y="43.8" font-size="11.0" fill="#f23645" stroke="#f23645" stroke-width="0.25" textLength="39.1" lengthAdjust="spacingAndGlyphs">1.36524</text>
<text x="442.1" y="43.8" font-size="11.0" fill="#f23645" stroke="#f23645" stroke-width="0.25" textLength="44.75" lengthAdjust="spacingAndGlyphs">−0.00034</text>
<text x="490.85" y="43.8" font-size="11.0" fill="#f23645" stroke="#f23645" stroke-width="0.25" textLength="42.25" lengthAdjust="spacingAndGlyphs">(−0.02%)</text>
<text x="17.1" y="59.6" font-size="11.0" fill="#131722" stroke="#131722" stroke-width="0.25" textLength="15.5" lengthAdjust="spacingAndGlyphs">Vol</text>
<text x="37.6" y="59.6" font-size="11.0" fill="#131722" stroke="#131722" stroke-width="0.25" text-anchor="middle">·</text>
<text x="43.35" y="59.6" font-size="11.0" fill="#131722" stroke="#131722" stroke-width="0.25" textLength="24.75" lengthAdjust="spacingAndGlyphs">Ticks</text>
<text x="74.6" y="59.6" font-size="11.0" fill="#ef5350" stroke="#ef5350" stroke-width="0.25" textLength="28.5" lengthAdjust="spacingAndGlyphs">7.694</text>
<text x="107.25" y="59.6" font-size="11.0" fill="#ef5350" stroke="#ef5350" stroke-width="0.25" text-anchor="middle">K</text>
<text x="965.6" y="67.05" font-size="10.6" fill="#131722" stroke="#131722" stroke-width="0.25" textLength="39.0" lengthAdjust="spacingAndGlyphs">1.38000</text>
<text x="965.6" y="112.05" font-size="10.6" fill="#131722" stroke="#131722" stroke-width="0.25" textLength="39.0" lengthAdjust="spacingAndGlyphs">1.37800</text>
<text x="965.6" y="157.05" font-size="10.6" fill="#131722" stroke="#131722" stroke-width="0.25" textLength="39.0" lengthAdjust="spacingAndGlyphs">1.37600</text>
<text x="965.6" y="202.05" font-size="10.6" fill="#131722" stroke="#131722" stroke-width="0.25" textLength="39.0" lengthAdjust="spacingAndGlyphs">1.37400</text>
<text x="965.6" y="247.05" font-size="10.6" fill="#131722" stroke="#131722" stroke-width="0.25" textLength="39.0" lengthAdjust="spacingAndGlyphs">1.37200</text>
<text x="965.6" y="292.05" font-size="10.6" fill="#131722" stroke="#131722" stroke-width="0.25" textLength="39.0" lengthAdjust="spacingAndGlyphs">1.37000</text>
<text x="965.6" y="337.05" font-size="10.6" fill="#131722" stroke="#131722" stroke-width="0.25" textLength="39.0" lengthAdjust="spacingAndGlyphs">1.36800</text>
<text x="965.6" y="382.05" font-size="10.6" fill="#131722" stroke="#131722" stroke-width="0.25" textLength="39.0" lengthAdjust="spacingAndGlyphs">1.36600</text>
<text x="965.6" y="427.05" font-size="10.6" fill="#131722" stroke="#131722" stroke-width="0.25" textLength="39.0" lengthAdjust="spacingAndGlyphs">1.36400</text>
<text x="965.6" y="472.05" font-size="10.6" fill="#131722" stroke="#131722" stroke-width="0.25" textLength="39.0" lengthAdjust="spacingAndGlyphs">1.36200</text>
<text x="965.6" y="517.05" font-size="10.6" fill="#131722" stroke="#131722" stroke-width="0.25" textLength="39.0" lengthAdjust="spacingAndGlyphs">1.36000</text>
<text x="57.8" y="601.2" font-size="10.5" fill="#131722" stroke="#131722" stroke-width="0.25" text-anchor="middle">10</text>
<text x="141.82999999999998" y="601.2" font-size="10.5" fill="#131722" stroke="#131722" stroke-width="0.25" text-anchor="middle">13:00</text>
<text x="225.86" y="601.2" font-size="10.5" fill="#131722" stroke="#131722" stroke-width="0.25" text-anchor="middle">17</text>
<text x="309.89" y="601.2" font-size="10.5" fill="#131722" stroke="#131722" stroke-width="0.25" text-anchor="middle">13:00</text>
<text x="393.92" y="601.2" font-size="10.5" fill="#131722" stroke="#131722" stroke-width="0.25" text-anchor="middle">24</text>
<text x="477.95" y="601.2" font-size="10.5" fill="#131722" stroke="#131722" stroke-width="0.25" text-anchor="middle">13:00</text>
<text x="561.98" y="601.2" font-size="10.5" fill="#131722" stroke="#131722" stroke-width="0.25" text-anchor="middle" font-weight="bold">Jul</text>
<text x="646.01" y="601.2" font-size="10.5" fill="#131722" stroke="#131722" stroke-width="0.25" text-anchor="middle">13:00</text>
<text x="730.04" y="601.2" font-size="10.5" fill="#131722" stroke="#131722" stroke-width="0.25" text-anchor="middle">8</text>
<text x="814.0699999999999" y="601.2" font-size="10.5" fill="#131722" stroke="#131722" stroke-width="0.25" text-anchor="middle">13:00</text>
<text x="898.0999999999999" y="601.2" font-size="10.5" fill="#131722" stroke="#131722" stroke-width="0.25" text-anchor="middle">15</text>
<rect x="957" y="387.8" width="53" height="28.8" rx="2" fill="#f23645"/>
<text x="966.6" y="399.3" font-size="10.5" fill="#fff" stroke="#fff" stroke-width="0.25" textLength="38.6" lengthAdjust="spacingAndGlyphs">1.36524</text>
<text x="966.6" y="412.4" font-size="10.5" fill="#fff" stroke="#fff" stroke-width="0.25" textLength="26.3" lengthAdjust="spacingAndGlyphs" opacity="0.8">34:36</text>
<rect x="957" y="552" width="49.6" height="15.3" rx="1.5" fill="#ef5350"/>
<text x="966" y="563.7" font-size="10.8" fill="#fff" stroke="#fff" stroke-width="0.45" textLength="36.4" lengthAdjust="spacingAndGlyphs">7.694K</text>
<g transform="translate(897.9,571.5)"><circle r="9.0" fill="#fff" stroke="#a43bbd" stroke-width="1.5"/><path d="M2.9 -4.6 L-4.1 0.9 L-0.7 0.9 L-2.9 5.2 L4.3 -0.9 L0.9 -0.9 Z" fill="#9c27b0"/></g>
<g transform="translate(914.6,571.5)"><circle r="9.6" fill="#fff" stroke="#f1414e" stroke-width="1.9"/><clipPath id="cu1"><circle r="7.5"/></clipPath><g clip-path="url(#cu1)"><rect x="-8" y="-8" width="16" height="16" fill="#fff"/><rect x="-8" y="-7.6" width="16" height="2.5" fill="#ef4a4c"/><rect x="-8" y="-1.2" width="16" height="2.8" fill="#ef4a4c"/><rect x="-8" y="4.7" width="16" height="3" fill="#ef4a4c"/><rect x="-8" y="-8" width="9.8" height="9.6" fill="#2d8ceb"/><g stroke="#fff" stroke-width="0.55" opacity="0.55"><line x1="-5" y1="-8" x2="-5" y2="1.6"/><line x1="-3" y1="-8" x2="-3" y2="1.6"/><line x1="-1" y1="-8" x2="-1" y2="1.6"/><line x1="-8" y1="-4.6" x2="1.8" y2="-4.6"/><line x1="-8" y1="-2.6" x2="1.8" y2="-2.6"/><line x1="-8" y1="-0.6" x2="1.8" y2="-0.6"/></g></g></g>
<g transform="translate(942.6,571.5)"><circle r="9.6" fill="#fff" stroke="#f1414e" stroke-width="1.9"/><clipPath id="cu2"><circle r="7.5"/></clipPath><g clip-path="url(#cu2)"><rect x="-8" y="-8" width="16" height="16" fill="#fff"/><rect x="-8" y="-7.6" width="16" height="2.5" fill="#ef4a4c"/><rect x="-8" y="-1.2" width="16" height="2.8" fill="#ef4a4c"/><rect x="-8" y="4.7" width="16" height="3" fill="#ef4a4c"/><rect x="-8" y="-8" width="9.8" height="9.6" fill="#2d8ceb"/><g stroke="#fff" stroke-width="0.55" opacity="0.55"><line x1="-5" y1="-8" x2="-5" y2="1.6"/><line x1="-3" y1="-8" x2="-3" y2="1.6"/><line x1="-1" y1="-8" x2="-1" y2="1.6"/><line x1="-8" y1="-4.6" x2="1.8" y2="-4.6"/><line x1="-8" y1="-2.6" x2="1.8" y2="-2.6"/><line x1="-8" y1="-0.6" x2="1.8" y2="-0.6"/></g></g></g>
<g transform="translate(942.6,548.4)"><circle r="9.6" fill="#fff" stroke="#f1414e" stroke-width="1.9"/><clipPath id="c9"><circle r="7.5"/></clipPath><g clip-path="url(#c9)"><rect x="-8" y="-8" width="16" height="16" fill="#f6f6f9"/><rect x="-8" y="-8" width="3.4" height="16" fill="#ef4a4c"/><rect x="4.6" y="-8" width="3.4" height="16" fill="#ef4a4c"/><path d="M0 -2.6 L2.5 0 L0 2.6 L-2.5 0Z" fill="#ef4a4c"/></g></g>
<g transform="translate(10,620) scale(0.5)" fill="#131722"><path d="M14 22H7V11H0V4h14v18zM28 22h-8l7.5-18h8L28 22z"/><circle cx="20" cy="8" r="4"/></g>
<text x="32.3" y="630.5" font-size="11.2" fill="#131722" textLength="64.7" lengthAdjust="spacingAndGlyphs">TradingView</text>
</svg></body></html>
